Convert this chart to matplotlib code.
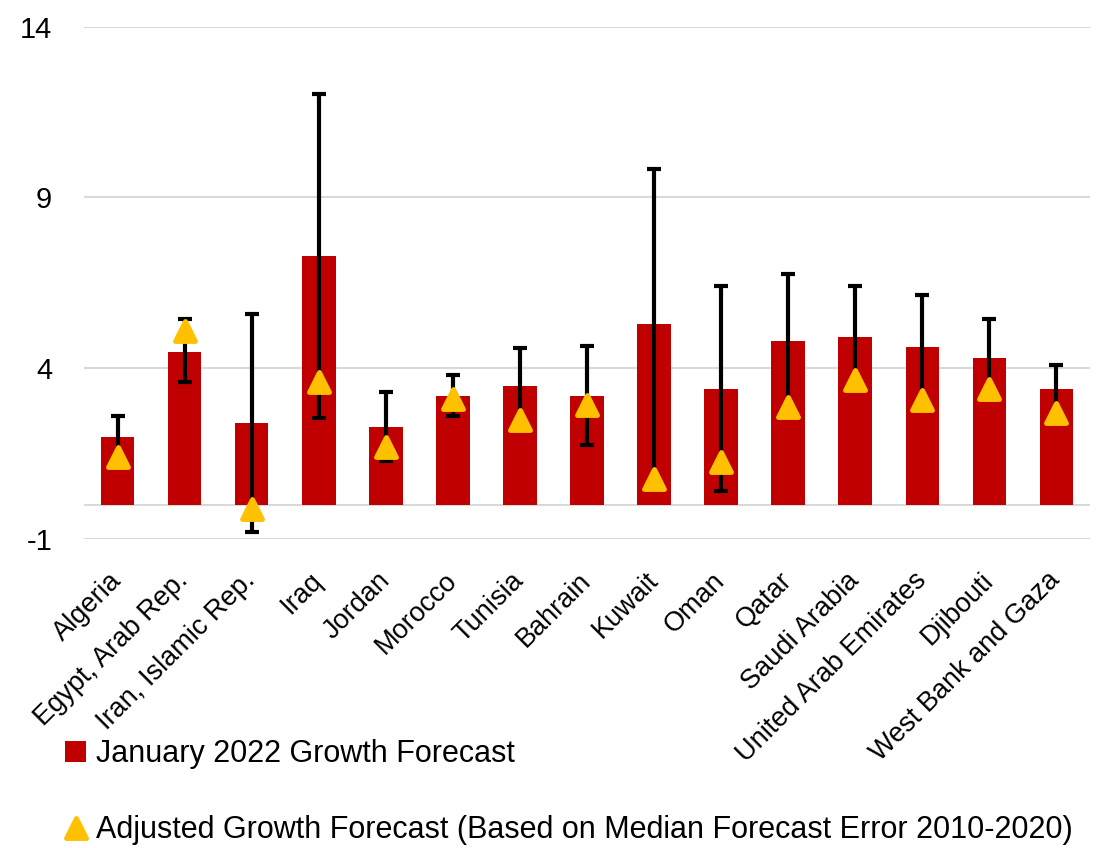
import matplotlib
matplotlib.use("Agg")
import matplotlib.pyplot as plt
from matplotlib.lines import Line2D
from matplotlib.patches import Patch
from matplotlib.markers import MarkerStyle
import numpy as np

categories = ["Algeria", "Egypt, Arab Rep.", "Iran, Islamic Rep.", "Iraq", "Jordan",
              "Morocco", "Tunisia", "Bahrain", "Kuwait", "Oman", "Qatar",
              "Saudi Arabia", "United Arab Emirates", "Djibouti", "West Bank and Gaza"]
forecast = [2.0, 4.48, 2.39, 7.29, 2.28, 3.19, 3.49, 3.19, 5.29, 3.40, 4.79, 4.90, 4.61, 4.30, 3.40]
adjusted = [1.39, 5.10, -0.13, 3.59, 1.70, 3.09, 2.49, 2.91, 0.76, 1.26, 2.86, 3.66, 3.07, 3.40, 2.70]
err_low = [1.25, 3.61, -0.79, 2.54, 1.29, 2.60, 2.35, 1.76, 0.62, 0.40, 2.72, 3.52, 2.93, 3.26, 2.56]
err_high = [2.60, 5.45, 5.58, 12.04, 3.30, 3.80, 4.59, 4.65, 9.84, 6.40, 6.75, 6.40, 6.15, 5.45, 4.09]
y_ticks = [-1, 4, 9, 14]

plt.rcParams['font.family'] = ['Liberation Sans', 'DejaVu Sans']
plt.rcParams['axes.unicode_minus'] = False

RED = "#C00000"
GOLD = "#FFC000"
GRID = "#D9D9D9"

fig = plt.figure(figsize=(10.97, 8.48), dpi=100)
ax = fig.add_axes([84/1097, 1-539/848, (1090-84)/1097, (539-26.7)/848])

x = np.arange(len(categories))
ax.bar(x, forecast, width=0.5, color=RED, zorder=2)

low = np.array(err_low)
high = np.array(err_high)
mid = (low + high) / 2
ax.errorbar(x, mid, yerr=[mid - low, high - mid], fmt='none', ecolor='black',
            elinewidth=3, capsize=5, capthick=3, zorder=3)

tri = MarkerStyle('^', joinstyle='round')
ax.plot(x, adjusted, linestyle='none', marker=tri, markersize=14,
        markerfacecolor=GOLD, markeredgecolor=GOLD, markeredgewidth=3.5, zorder=4)

ax.set_ylim(-1, 14)
ax.set_xlim(-0.5, len(categories) - 0.5)
ax.set_yticks(y_ticks)
for t in y_ticks:
    ax.axhline(t, color=GRID, linewidth=1.5, zorder=0)
ax.axhline(0, color=GRID, linewidth=1.5, zorder=1)

for s in ax.spines.values():
    s.set_visible(False)
ax.tick_params(axis='both', length=0)
ax.tick_params(axis='y', labelsize=21, pad=23)
ax.set_xticks(x)
ax.set_xticklabels(categories, rotation=45, ha='right', va='center',
                   rotation_mode='anchor', fontsize=19.5)
ax.tick_params(axis='x', pad=27)

handles = [Patch(facecolor=RED, edgecolor='none'),
           Line2D([], [], linestyle='none', marker=tri, markersize=14,
                  markerfacecolor=GOLD, markeredgecolor=GOLD, markeredgewidth=3.5)]
labels = ["January 2022 Growth Forecast",
          "Adjusted Growth Forecast (Based on Median Forecast Error 2010-2020)"]
fig.legend(handles, labels, loc='upper left', bbox_to_anchor=(65/1097, 1-739/848),
           frameon=False, fontsize=22.0, borderpad=0, borderaxespad=0,
           handlelength=0.7, handleheight=0.7, handletextpad=0.33, labelspacing=1.52)

fig.savefig("out.png", dpi=100)
